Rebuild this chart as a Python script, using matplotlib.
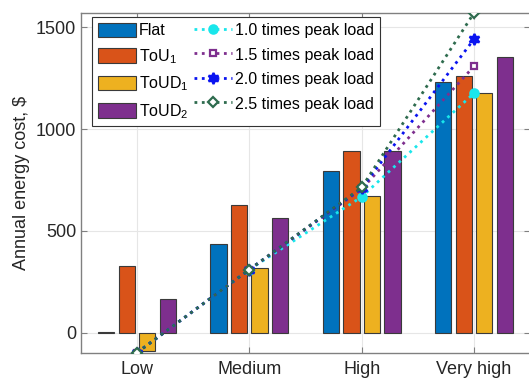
import numpy as np
import matplotlib
matplotlib.use('Agg')
import matplotlib.pyplot as plt

plt.rcParams['font.family'] = ['Liberation Sans', 'DejaVu Sans']
plt.rcParams['mathtext.default'] = 'regular'

# annual energy cost per tariff and consumption level
levels = ['Low', 'Medium', 'High', 'Very high']
tariffs = ['Flat', 'ToU$_1$', 'ToUD$_1$', 'ToUD$_2$']
flat = [5, 433, 792, 1230]
tou1 = [325, 625, 890, 1259]
toud1 = [-88, 320, 669, 1176]
toud2 = [167, 561, 890, 1353]

# cost curves for different peak load multipliers
peak_labels = ['1.0 times peak load', '1.5 times peak load',
               '2.0 times peak load', '2.5 times peak load']
peak_10 = [-98, 310, 667, 1176]
peak_15 = [-98, 310, 705, 1308]
peak_20 = [-98, 310, 710, 1441]
peak_25 = [-98, 310, 713, 1570]

bar_colors = ['#0072BD', '#D95319', '#EDB120', '#7E2F8E']
line_colors = ['#19E6EB', '#7E2F8E', '#0A14F0', '#2E6B4E']
markers = ['o', 's', (6, 1, 0), 'D']
msizes = [6, 4.5, 8, 5]

fig = plt.figure(figsize=(5.29, 3.79), dpi=100)
ax = fig.add_axes([0.153, 0.0686, 0.849, 0.897])

x = np.arange(1, 5)
offsets = [-0.275, -0.0915, 0.0915, 0.275]
bars = []
for vals, off, col, lab in zip([flat, tou1, toud1, toud2], offsets, bar_colors, tariffs):
    b = ax.bar(x + off, vals, width=0.145, color=col, edgecolor='#3a3a3a',
               linewidth=0.8, label=lab, zorder=2)
    bars.append(b)

lines = []
for vals, col, mk, ms, lab in zip([peak_10, peak_15, peak_20, peak_25],
                                  line_colors, markers, msizes, peak_labels):
    face = col
    if mk == 's' or mk == 'D':
        face = 'white'
    ln, = ax.plot(x, vals, linestyle=':', linewidth=2.0, color=col,
                  marker=mk, markersize=ms, markerfacecolor=face,
                  markeredgecolor=col, markeredgewidth=1.6, label=lab, zorder=3)
    lines.append(ln)

ax.set_xlim(0.5, 4.5)
ax.set_ylim(-100, 1570)
ax.set_xticks(x)
ax.set_xticklabels(levels)
ax.set_yticks([0, 500, 1000, 1500])
ax.set_ylabel('Annual energy cost, $', fontsize=13, color='#262626')
ax.tick_params(direction='in', top=True, right=True, length=4,
               labelsize=13, colors='#808080', labelcolor='#262626')
ax.tick_params(axis='x', pad=6)
ax.grid(True, color='#e6e6e6', linewidth=0.8, zorder=0)
ax.set_axisbelow(True)
for sp in ax.spines.values():
    sp.set_color('#808080')
    sp.set_linewidth(1.0)

leg = ax.legend(handles=bars + lines, ncol=2, loc='upper left',
                bbox_to_anchor=(0.0245, 0.988), borderaxespad=0,
                fontsize=11.5, frameon=True, fancybox=False,
                edgecolor='#333333', framealpha=1, handlelength=2.4,
                handleheight=1.0, labelspacing=0.55, columnspacing=0.3,
                handletextpad=0.2, borderpad=0.35)
leg.get_frame().set_linewidth(0.8)

fig.savefig('out.png', dpi=100)
